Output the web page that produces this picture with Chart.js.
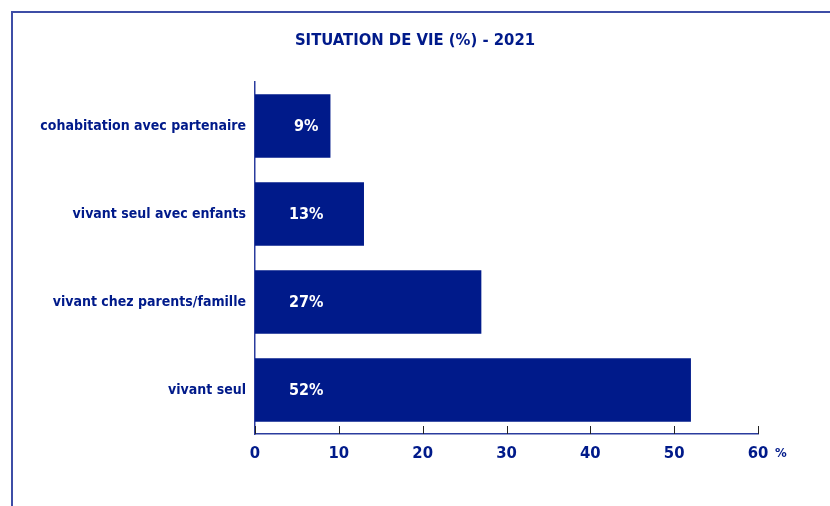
<!DOCTYPE html>
<html>
<head>
<meta charset="utf-8">
<script src="https://cdn.jsdelivr.net/npm/chart.js@4.4.1/dist/chart.umd.min.js"></script>
<style>
  html, body { margin: 0; padding: 0; background: #fff; }
  #wrap { position: relative; width: 830px; height: 506px; overflow: hidden; }
  #cadre { position: absolute; left: 11px; top: 11px; width: 900px; height: 600px;
    border-left: 2px solid #3e4da6; border-top: 2px solid #3e4da6; }
  canvas { position: absolute; left: 0; top: 0; }
</style>
</head>
<body>
<div id="wrap">
  <div id="cadre"></div>
  <canvas id="graphe" width="830" height="506"></canvas>
</div>
<script>
var titre = "SITUATION DE VIE (%) - 2021";
var categories = ["cohabitation avec partenaire", "vivant seul avec enfants", "vivant chez parents/famille", "vivant seul"];
var valeurs = [9, 13, 27, 52];
var etiquettes = ["9%", "13%", "27%", "52%"];
var ticksX = [0, 10, 20, 30, 40, 50, 60];

var BLEU = "#001a8a";
var POLICE = "'Liberation Sans Narrow', 'DejaVu Sans Condensed', 'Roboto', sans-serif";

// titre, etiquettes blanches, petits traits de graduation vers le haut et unite "%"
var decor = {
	id: "decor",
	afterDatasetsDraw: function(chart){
		var ctx = chart.ctx;
		var x = chart.scales.x;
		var y = chart.scales.y;
		var bas = chart.chartArea.bottom;
		ctx.save();
		ctx.fillStyle = BLEU;
		ctx.font = "bold 16.5px " + POLICE;
		ctx.textAlign = "center";
		ctx.textBaseline = "middle";
		ctx.fillText(titre, chart.width / 2, 41);

		ctx.strokeStyle = "#222";
		ctx.lineWidth = 1;
		for(var i=0; i<ticksX.length; i++){
			var px = Math.round(x.getPixelForValue(ticksX[i])) + 0.5;
			ctx.beginPath();
			ctx.moveTo(px, bas - 8);
			ctx.lineTo(px, bas);
			ctx.stroke();
		}
		ctx.fillStyle = "#fff";
		ctx.font = "bold 16px " + POLICE;
		for(var j=0; j<valeurs.length; j++){
			ctx.fillText(etiquettes[j], x.getPixelForValue(6.1), y.getPixelForValue(j) + 1);
		}
		ctx.fillStyle = BLEU;
		ctx.font = "bold 13px " + POLICE;
		ctx.textAlign = "left";
		ctx.fillText("%", x.getPixelForValue(60) + 17, bas + 20);
		ctx.restore();
	}
};

var graphe = new Chart(document.getElementById("graphe"), {
	type: "bar",
	data: {
		labels: categories,
		datasets: [{
			data: valeurs,
			backgroundColor: BLEU,
			borderWidth: 0,
			barPercentage: 0.72,
			categoryPercentage: 1
		}]
	},
	options: {
		indexAxis: "y",
		responsive: false,
		animation: false,
		layout: { padding: { left: 0, right: 72, top: 82, bottom: 0 } },
		plugins: {
			legend: { display: false },
			tooltip: { enabled: false },
			title: { display: false }
		},
		scales: {
			x: {
				min: 0,
				max: 60,
				afterFit: function(s){ s.height = 72; },
				afterBuildTicks: function(s){ s.ticks = ticksX.map(function(v){ return { value: v }; }); },
				grid: { display: false, drawTicks: false },
				border: { display: true, color: "#2b3c9e", width: 1.5 },
				ticks: { color: BLEU, padding: 10, font: { family: POLICE, size: 16.5, weight: "bold" } }
			},
			y: {
				afterFit: function(s){ s.width = 255; },
				grid: { display: false, drawTicks: false },
				border: { display: true, color: "#2b3c9e", width: 1.5 },
				ticks: { color: BLEU, padding: 9, font: { family: POLICE, size: 14, weight: "bold" } }
			}
		}
	},
	plugins: [decor]
});
</script>
</body>
</html>
